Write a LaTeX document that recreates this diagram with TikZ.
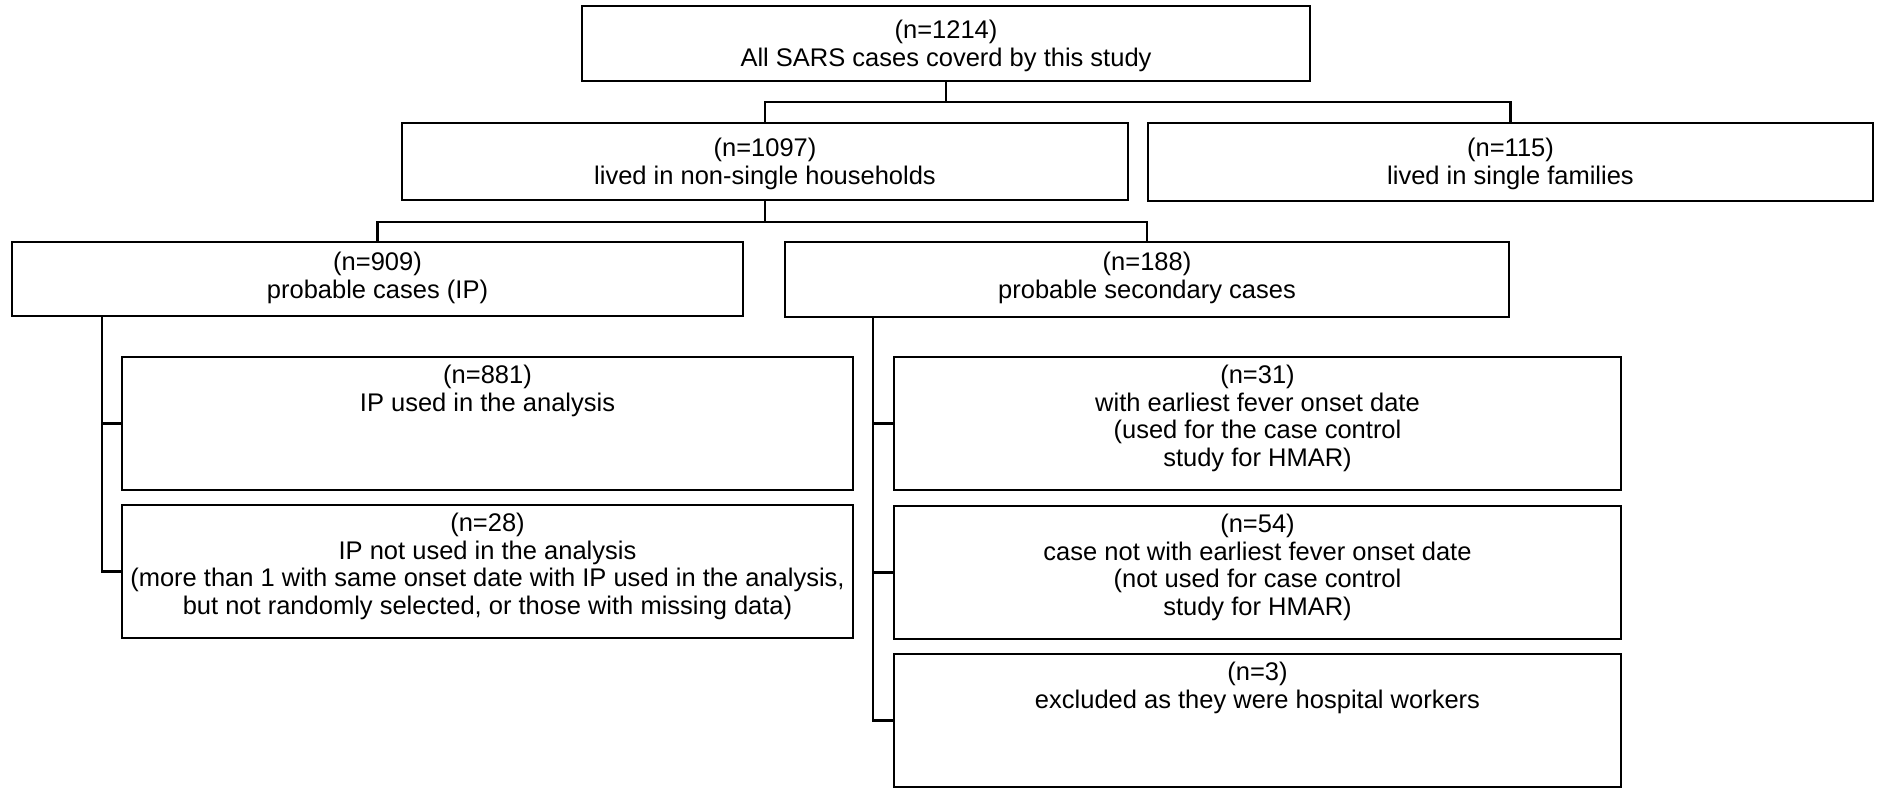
\documentclass[tikz,border=0pt]{standalone}
\usepackage{fontspec}
\setmainfont{Liberation Sans}
\begin{document}
\begin{tikzpicture}[x=1pt,y=-1pt,
  box/.style={draw, line width=2.3pt, inner sep=0pt, rectangle},
  txt/.style={anchor=north, align=center, inner sep=0pt, font=\fontsize{25.5}{27.5}\selectfont},
  conn/.style={line width=2.3pt, line join=miter}]
\useasboundingbox[fill=white] (0,0) rectangle (1877,789);
% boxes
\node[box, minimum width=728pt, minimum height=75pt] (b1214) at (946,43.5) {};
\node[box, minimum width=726pt, minimum height=77pt] (b1097) at (765,161.5) {};
\node[box, minimum width=725pt, minimum height=78pt] (b115) at (1510.5,162) {};
\node[box, minimum width=731pt, minimum height=74pt] (b909) at (377.5,279) {};
\node[box, minimum width=724pt, minimum height=75pt] (b188) at (1147,279.5) {};
\node[box, minimum width=731pt, minimum height=133pt] (b881) at (487.5,423.5) {};
\node[box, minimum width=731pt, minimum height=133pt] (b28) at (487.5,571.5) {};
\node[box, minimum width=727pt, minimum height=133pt] (b31) at (1257.5,423.5) {};
\node[box, minimum width=727pt, minimum height=133pt] (b54) at (1257.5,572.5) {};
\node[box, minimum width=727pt, minimum height=133pt] (b3) at (1257.5,720.5) {};
% texts
\node[txt] (t1214) at ([yshift=-15pt]b1214.north) {(n=1214)\\All SARS cases coverd by this study};
\node[txt] (t1097) at ([yshift=-16pt]b1097.north) {(n=1097)\\lived in non-single households};
\node[txt] (t115) at ([yshift=-16pt]b115.north) {(n=115)\\lived in single families};
\node[txt] (t909) at ([yshift=-11pt]b909.north) {(n=909)\\probable cases (IP)};
\node[txt] (t188) at ([yshift=-11pt]b188.north) {(n=188)\\probable secondary cases};
\node[txt] (t881) at ([yshift=-9pt]b881.north) {(n=881)\\IP used in the analysis};
\node[txt] (t28) at ([yshift=-9pt]b28.north) {(n=28)\\IP not used in the analysis\\(more than 1 with same onset date with IP used in the analysis,\\but not randomly selected, or those with missing data)};
\node[txt] (t31) at ([yshift=-9pt]b31.north) {(n=31)\\with earliest fever onset date\\(used for the case control\\study for HMAR)};
\node[txt] (t54) at ([yshift=-9pt]b54.north) {(n=54)\\case not with earliest fever onset date\\(not used for case control\\study for HMAR)};
\node[txt] (t3) at ([yshift=-9pt]b3.north) {(n=3)\\excluded as they were hospital workers};
% junctions
\coordinate (j1) at (946,102);
\coordinate (j2) at (765,222);
\coordinate (s909) at (102,316);
\coordinate (s188) at (873,317);
% connectors
\draw[conn] (b1214.south) -- (j1);
\draw[conn] (b1097.north) |- (j1) -| (b115.north);
\draw[conn] (b1097.south) -- (j2);
\draw[conn] (b909.north) |- (j2) -| (b188.north);
\draw[conn] (s909) |- (b28.west);
\draw[conn] (s909 |- b881.west) -- (b881.west);
\draw[conn] (s188) |- (b3.west);
\draw[conn] (s188 |- b31.west) -- (b31.west);
\draw[conn] (s188 |- b54.west) -- (b54.west);
\end{tikzpicture}
\end{document}
